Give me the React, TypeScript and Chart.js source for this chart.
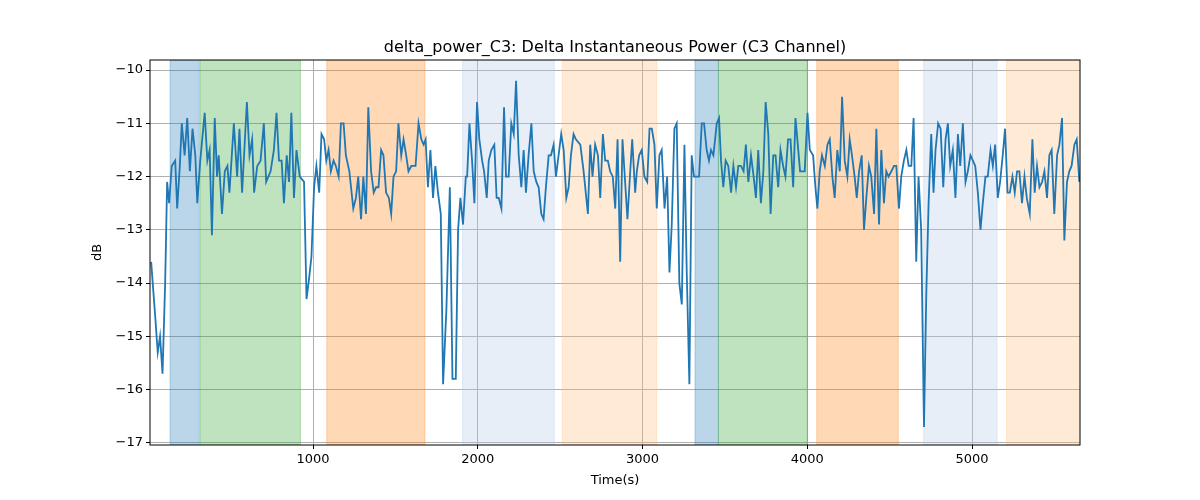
import React, { useEffect, useRef } from "react";
import { Chart, registerables } from "chart.js";
Chart.register(...registerables);

const times = [17,41,57,71,86,102,114,126,142,163,175,191,203,220,236,252,268,285,297,315,342,358,372,386,403,417,427,447,464,480,492,519,539,553,569,598,614,630,642,661,681,701,715,742,762,778,793,809,823,840,854,868,884,899,919,945,960,976,990,1006,1020,1037,1051,1067,1080,1094,1108,1124,1138,1155,1169,1185,1199,1220,1244,1260,1274,1291,1305,1321,1335,1352,1368,1382,1397,1413,1427,1443,1460,1474,1488,1504,1518,1535,1549,1565,1579,1596,1610,1622,1640,1657,1671,1683,1697,1712,1728,1742,1758,1775,1789,1809,1830,1846,1866,1880,1894,1910,1927,
1935,1949,1965,1979,1995,2009,2026,2038,2054,2066,2082,2100,2114,2127,2143,2159,2171,2187,2203,2218,2232,2248,2264,2278,2292,2308,2325,2339,2355,2369,2385,2399,2413,2430,2444,2460,2474,2490,2506,2521,2537,2551,2565,2581,2595,2622,2642,2668,2682,2696,2712,2729,2743,2759,2773,2789,2803,2819,2834,2848,2864,2878,2894,2908,2925,2937,2955,2965,2979,2995,3011,3028,3042,3056,3072,3086,3102,3116,3133,3149,3163,3177,3193,3207,3223,3238,3254,3268,3284,3298,3312,3326,3343,3359,3373,3389,3403,3415,3430,3450,3464,3476,3490,3504,3520,3537,3551,3567,3581,3597,3613,3627,3642,3658,3674,3688,3702,3718,3733,3747,3763,3777,3793,
3807,3823,3837,3853,3867,3883,3898,3914,3928,3942,3956,3970,3984,4001,4015,4035,4049,4061,4075,4089,4106,4122,4136,4152,4166,4182,4197,4211,4227,4243,4257,4271,4287,4300,4314,4330,4344,4358,4374,4388,4405,4419,4435,4449,4465,4479,4493,4510,4526,4540,4556,4570,4586,4601,4615,4631,4645,4661,4675,4691,4708,4722,4736,4752,4766,4778,4794,4809,4825,4839,4853,4867,4883,4899,4914,4928,4944,4960,4974,4990,5005,5019,5035,5051,5065,5081,5095,5112,5126,5140,5156,5170,5186,5200,5215,5229,5245,5259,5273,5287,5303,5318,5332,5350,5366,5380,5394,5409,5425,5439,5455,5469,5483,5499,5516,5530,5546,5560,5576,5590,5604,5621,5635,5651];

const power = [-13.6,-14.6,-15.3,-15.0,-15.7,-14.0,-12.1,-12.5,-11.8,-11.7,-12.6,-11.8,-11.0,-11.6,-10.9,-11.9,-11.1,-11.6,-12.5,-11.7,-10.8,-11.7,-11.5,-13.1,-10.9,-12.0,-11.6,-12.7,-11.9,-11.8,-12.3,-11.0,-12.0,-11.1,-12.3,-10.6,-11.6,-11.3,-12.3,-11.8,-11.7,-11.0,-12.1,-11.9,-11.5,-10.8,-11.7,-11.7,-12.5,-11.6,-12.1,-10.8,-12.4,-11.5,-12.0,-12.1,-14.3,-13.9,-13.5,-12.2,-11.8,-12.3,-11.2,-11.3,-11.7,-11.5,-11.9,-11.7,-11.8,-12.0,-11.0,-11.0,-11.6,-11.9,-12.6,-12.4,-12.0,-12.8,-12.0,-12.7,-10.7,-11.9,-12.3,-12.2,-12.2,-11.5,-11.6,-12.3,-12.4,-12.7,-12.0,-11.9,-11.0,-11.6,-11.3,-11.6,-11.9,-11.8,-11.8,-11.8,-11.0,-11.3,-11.4,-11.3,-12.2,-11.5,-12.4,-11.8,-12.3,-12.7,-15.9,-14.5,-12.2,-15.8,-15.8,-13.0,-12.4,-12.9,-12.0,
-12.0,-11.0,-11.7,-12.5,-10.6,-11.3,-11.7,-11.9,-12.4,-11.7,-11.5,-11.4,-12.4,-12.4,-12.6,-10.7,-12.0,-12.0,-11.0,-11.2,-10.2,-11.6,-12.2,-11.5,-12.3,-11.6,-11.0,-11.9,-12.1,-12.2,-12.7,-12.8,-12.2,-11.6,-11.6,-11.4,-12.0,-11.6,-11.2,-11.5,-12.4,-12.2,-11.6,-11.2,-11.3,-11.4,-11.9,-12.7,-11.4,-12.0,-11.4,-11.6,-12.4,-11.2,-11.7,-11.7,-11.9,-12.0,-12.6,-11.3,-13.6,-11.3,-12.1,-12.8,-11.9,-11.3,-12.3,-11.9,-11.6,-11.5,-12.0,-12.1,-11.1,-11.1,-11.4,-12.6,-11.6,-11.5,-12.6,-12.0,-13.8,-12.9,-11.1,-11.0,-14.0,-14.4,-11.4,-13.8,-15.9,-11.6,-12.0,-12.0,-12.0,-11.0,-11.0,-11.5,-11.7,-11.5,-11.6,-11.0,-10.9,-11.7,-12.2,-11.7,-11.8,-12.3,-11.8,-12.2,-11.8,-11.8,-11.9,-11.4,-12.1,-11.6,-12.0,-12.4,-11.5,-12.5,-11.9,-10.6,-11.2,-12.7,-11.6,
-11.6,-12.2,-11.5,-11.8,-12.0,-11.3,-11.3,-12.2,-10.9,-11.4,-11.9,-11.9,-11.9,-10.8,-11.5,-11.6,-12.2,-12.6,-11.9,-11.6,-11.8,-11.4,-11.3,-12.0,-12.4,-11.5,-11.9,-10.5,-11.7,-12.0,-11.3,-11.6,-12.0,-12.4,-11.9,-11.6,-13.0,-12.4,-11.8,-12.0,-12.7,-11.1,-12.9,-11.5,-12.5,-11.9,-12.0,-11.9,-11.8,-11.8,-12.6,-12.0,-11.7,-11.5,-11.8,-11.8,-10.9,-13.6,-12.0,-13.0,-16.7,-14.2,-12.5,-11.2,-12.3,-11.5,-11.0,-11.1,-12.2,-11.3,-11.0,-11.8,-11.5,-12.4,-11.2,-11.8,-11.0,-12.1,-11.9,-11.6,-11.7,-11.8,-12.3,-13.0,-12.5,-12.0,-12.0,-11.5,-11.8,-11.4,-12.4,-12.1,-11.6,-11.1,-12.3,-12.3,-12.0,-12.3,-11.9,-11.9,-12.5,-12.0,-12.4,-12.7,-11.3,-12.3,-11.8,-12.2,-12.1,-11.9,-12.4,-11.6,-11.5,-12.7,-11.6,-11.4,-10.9,-13.2,-12.1,-11.9,-11.8,-11.4,-11.3,-12.1];

const spanStarts = [132, 315, 1083, 1907, 2512, 3318, 3460, 4057, 4706, 5209];
const spanEnds = [309, 923, 1679, 2464, 3086, 3460, 3999, 4552, 5152, 5660];
const spanColors = [
  "rgba(31,119,180,0.3)", "rgba(44,160,44,0.3)", "rgba(255,127,14,0.3)", "rgba(174,199,232,0.3)", "rgba(255,187,120,0.3)",
  "rgba(31,119,180,0.3)", "rgba(44,160,44,0.3)", "rgba(255,127,14,0.3)", "rgba(174,199,232,0.3)", "rgba(255,187,120,0.3)",
];
const yTicks = [-10, -11, -12, -13, -14, -15, -16, -17];
const xTicks = [1000, 2000, 3000, 4000, 5000];

const FONT = "'DejaVu Sans', sans-serif";

const spanPlugin = {
  id: "spans",
  beforeDatasetsDraw(chart: any) {
    const { ctx, chartArea, scales } = chart;
    ctx.save();
    ctx.beginPath();
    ctx.rect(chartArea.left, chartArea.top, chartArea.right - chartArea.left, chartArea.bottom - chartArea.top);
    ctx.clip();
    spanStarts.forEach((s, i) => {
      const x1 = scales.x.getPixelForValue(s);
      const x2 = scales.x.getPixelForValue(spanEnds[i]);
      ctx.fillStyle = spanColors[i];
      ctx.fillRect(x1, chartArea.top, x2 - x1, chartArea.bottom - chartArea.top);
      ctx.strokeStyle = spanColors[i];
      ctx.lineWidth = 1;
      ctx.strokeRect(x1, chartArea.top, x2 - x1, chartArea.bottom - chartArea.top);
    });
    ctx.restore();
  },
  afterDraw(chart: any) {
    const { ctx, chartArea } = chart;
    ctx.save();
    ctx.strokeStyle = "#000";
    ctx.lineWidth = 1;
    ctx.strokeRect(chartArea.left, chartArea.top, chartArea.right - chartArea.left, chartArea.bottom - chartArea.top);
    ctx.fillStyle = "#000";
    ctx.textAlign = "center";
    ctx.textBaseline = "alphabetic";
    ctx.font = `16px ${FONT}`;
    ctx.fillText("delta_power_C3: Delta Instantaneous Power (C3 Channel)", (chartArea.left + chartArea.right) / 2, 52);
    ctx.font = `13px ${FONT}`;
    ctx.textBaseline = "middle";
    ctx.fillText("Time(s)", (chartArea.left + chartArea.right) / 2, 481);
    ctx.translate(98, (chartArea.top + chartArea.bottom) / 2);
    ctx.rotate(-Math.PI / 2);
    ctx.fillText("dB", 0, 0);
    ctx.restore();
  },
};

export default function App() {
  const ref = useRef<HTMLCanvasElement>(null);
  useEffect(() => {
    document.body.style.margin = "0";
    const chart = new Chart(ref.current!, {
      type: "line",
      data: {
        datasets: [{
          data: times.map((t, i) => ({ x: t, y: power[i] })),
          borderColor: "#1f77b4",
          borderWidth: 1.8,
          pointRadius: 0,
          tension: 0,
        }],
      },
      options: {
        animation: false,
        responsive: false,
        layout: { padding: { top: 60, right: 120, left: 0, bottom: 0 } },
        plugins: { legend: { display: false }, tooltip: { enabled: false } },
        scales: {
          x: {
            type: "linear", min: 10, max: 5655,
            afterBuildTicks: (s: any) => { s.ticks = xTicks.map((v) => ({ value: v })); },
            afterFit: (s: any) => { s.height = 55; },
            grid: { color: "#b0b0b0", tickLength: 4, tickColor: "#000" },
            border: { display: false },
            ticks: { color: "#000", font: { family: FONT, size: 13 }, padding: 3, maxRotation: 0, callback: (v: any) => String(v) },
          },
          y: {
            type: "linear", min: -17.04, max: -9.81,
            afterBuildTicks: (s: any) => { s.ticks = yTicks.map((v) => ({ value: v })); },
            afterFit: (s: any) => { s.width = 150; },
            grid: { color: "#b0b0b0", tickLength: 4, tickColor: "#000" },
            border: { display: false },
            ticks: { color: "#000", font: { family: FONT, size: 13 }, padding: 3, callback: (v: any) => String(v).replace("-", "\u2212") },
          },
        },
      },
      plugins: [spanPlugin],
    });
    return () => chart.destroy();
  }, []);
  return <canvas ref={ref} width={1200} height={500} style={{ display: "block" }} />;
}
